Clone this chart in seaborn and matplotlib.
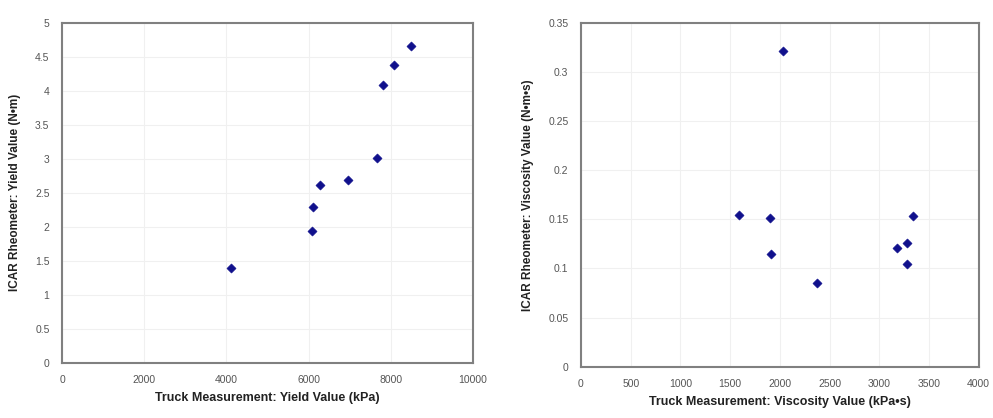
import numpy as np
import pandas as pd
import matplotlib
matplotlib.use("Agg")
import matplotlib.pyplot as plt
import seaborn as sns


# yield values (left panel)
yield_truck = [4120, 6080, 6100, 6270, 6960, 7670, 7820, 8090, 8500]
yield_icar = [1.40, 1.93, 2.29, 2.61, 2.68, 3.01, 4.08, 4.38, 4.66]

# viscosity values (right panel)
visc_truck = [1590, 1905, 1908, 2035, 2377, 3176, 3280, 3283, 3337]
visc_icar = [0.154, 0.151, 0.115, 0.321, 0.085, 0.121, 0.1255, 0.105, 0.153]

yield_xticks = [0, 2000, 4000, 6000, 8000, 10000]
yield_yticks = [0, 0.5, 1, 1.5, 2, 2.5, 3, 3.5, 4, 4.5, 5]
visc_xticks = [0, 500, 1000, 1500, 2000, 2500, 3000, 3500, 4000]
visc_yticks = [0, 0.05, 0.1, 0.15, 0.2, 0.25, 0.3, 0.35]

MARKER_COLOR = "#10108c"
FRAME_COLOR = "#808080"
GRID_COLOR = "#f0f0f0"


sns.set_style("white")
plt.rcParams["font.family"] = ["Liberation Sans", "DejaVu Sans"]

fig = plt.figure(figsize=(9.93, 4.18), dpi=100)
ax1 = fig.add_axes([62 / 993, 1 - 362.7 / 418, 411 / 993, 340 / 418])
ax2 = fig.add_axes([581 / 993, 1 - 366.7 / 418, 397.7 / 993, 344 / 418])


def style_axis(ax, xticks, yticks, xlabel, ylabel):
    ax.set_xlim(xticks[0], xticks[-1])
    ax.set_ylim(yticks[0], yticks[-1])
    ax.set_xticks(xticks)
    ax.set_yticks(yticks)
    ax.set_xticklabels([f"{t:g}" for t in xticks])
    ax.set_yticklabels([f"{t:g}" for t in yticks])
    ax.grid(True, color=GRID_COLOR, linewidth=0.8)
    ax.set_axisbelow(True)
    for s in ax.spines.values():
        s.set_color(FRAME_COLOR)
        s.set_linewidth(1.5)
    ax.tick_params(axis="both", labelsize=7.5, colors="#555555",
                   direction="out", length=3, width=0.8, pad=6)
    ax.set_xlabel(xlabel, fontsize=9, fontweight="bold", color="#222222", labelpad=5)
    ax.set_ylabel(ylabel, fontsize=8.5, fontweight="bold", color="#222222", labelpad=10)


df1 = pd.DataFrame({"truck": yield_truck, "icar": yield_icar})
sns.scatterplot(data=df1, x="truck", y="icar", marker="D", s=22,
                color=MARKER_COLOR, edgecolor=MARKER_COLOR, ax=ax1, zorder=3)
style_axis(ax1, yield_xticks, yield_yticks,
           "Truck Measurement: Yield Value (kPa)",
           "ICAR Rheometer: Yield Value (N\u2022m)")

df2 = pd.DataFrame({"truck": visc_truck, "icar": visc_icar})
sns.scatterplot(data=df2, x="truck", y="icar", marker="D", s=22,
                color=MARKER_COLOR, edgecolor=MARKER_COLOR, ax=ax2, zorder=3)
style_axis(ax2, visc_xticks, visc_yticks,
           "Truck Measurement: Viscosity Value (kPa\u2022s)",
           "ICAR Rheometer: Viscosity Value (N\u2022m\u2022s)")

fig.savefig("out.png", dpi=100)
